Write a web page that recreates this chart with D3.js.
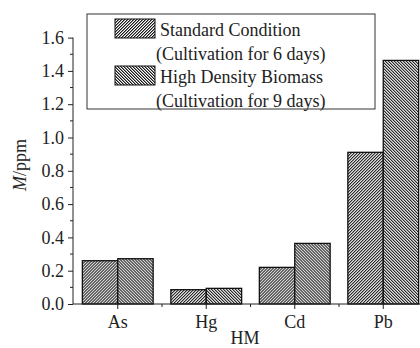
<!DOCTYPE html>
<html>
<head>
<script src="https://cdn.jsdelivr.net/npm/d3@7"></script>
<style>
  body { margin: 0; background: #fff; }
  svg, svg text { font-family: "Liberation Serif", "Times New Roman", serif; }
</style>
</head>
<body>
<svg width="420" height="348"></svg>
<script>
var categories = ["As", "Hg", "Cd", "Pb"];
var seriesNames = ["Standard Condition", "High Density Biomass"];
var seriesNotes = ["(Cultivation for 6 days)", "(Cultivation for 9 days)"];
var standard = [0.26, 0.086, 0.22, 0.911];
var highDensity = [0.272, 0.094, 0.364, 1.463];
var yTicks = [0, 0.2, 0.4, 0.6, 0.8, 1.0, 1.2, 1.4, 1.6];

var svg = d3.select("svg");

// pixel hatch patterns, 3px period
var defs = svg.append("defs");
function hatch(id, rising) {
  var p = defs.append("pattern")
    .attr("id", id)
    .attr("patternUnits", "userSpaceOnUse")
    .attr("width", 3).attr("height", 3);
  p.append("rect").attr("width", 3).attr("height", 3).attr("fill", "#fff");
  [0, 1, 2].forEach(function(r) {
    var c = rising ? 2 - r : r;
    p.append("rect").attr("x", c).attr("y", r).attr("width", 1).attr("height", 1)
      .attr("fill", "#1a1a1a").attr("shape-rendering", "crispEdges");
    p.append("rect").attr("x", (c + 1) % 3).attr("y", r).attr("width", 1).attr("height", 1)
      .attr("fill", "#888").attr("shape-rendering", "crispEdges");
  });
}
hatch("h1", true);
hatch("h2", false);

var x = d3.scaleBand().domain(categories).range([73.5, 427.5])
  .paddingInner(0.2).paddingOuter(0.1);
var xs = d3.scaleBand().domain([0, 1]).range([0, x.bandwidth()]);
var y = d3.scaleLinear().domain([0, 1.6]).range([304, 37.6]);

var data = categories.map(function(c, i) {
  return { cat: c, vals: [standard[i], highDensity[i]] };
});

var groups = svg.selectAll("g.cat").data(data).enter()
  .append("g").attr("class", "cat")
  .attr("transform", function(d) { return "translate(" + x(d.cat) + ",0)"; });

groups.selectAll("rect").data(function(d) { return d.vals; }).enter()
  .append("rect")
  .attr("x", function(d, i) { return xs(i); })
  .attr("y", function(d) { return y(d); })
  .attr("width", xs.bandwidth())
  .attr("height", function(d) { return y(0) - y(d); })
  .attr("fill", function(d, i) { return i === 0 ? "url(#h1)" : "url(#h2)"; })
  .attr("stroke", "#111")
  .attr("stroke-width", 1.3);

// y axis
var yAxis = svg.append("g").attr("transform", "translate(73,0)")
  .call(d3.axisLeft(y).tickValues(yTicks).tickFormat(d3.format(".1f")).tickSize(5).tickPadding(4));
yAxis.attr("font-family", null).attr("font-size", 18);
yAxis.selectAll(".tick text").attr("fill", "#222");
yAxis.select(".domain").attr("d", "M0," + y(0) + "V" + y(1.6));
svg.append("g").attr("transform", "translate(73,0)")
  .selectAll("line").data(d3.range(1, 16, 2).map(function(v) { return v / 10; }))
  .enter().append("line")
  .attr("x1", -3).attr("x2", 0)
  .attr("y1", function(d) { return y(d); }).attr("y2", function(d) { return y(d); })
  .attr("stroke", "#222");

// x axis
var xAxis = svg.append("g").attr("transform", "translate(0," + y(0) + ")")
  .call(d3.axisBottom(x).tickSize(5).tickPadding(6));
xAxis.attr("font-family", null).attr("font-size", 18);
xAxis.select(".domain").attr("d", "M73,0H420");
xAxis.selectAll(".tick text").attr("fill", "#222");
svg.append("g").attr("transform", "translate(0," + y(0) + ")")
  .selectAll("line").data(categories.slice(1))
  .enter().append("line")
  .attr("x1", function(d) { return x(d) - x.step() * x.paddingInner() / 2; })
  .attr("x2", function(d) { return x(d) - x.step() * x.paddingInner() / 2; })
  .attr("y1", 0).attr("y2", 3)
  .attr("stroke", "#222");
svg.selectAll(".domain, .tick line").attr("stroke", "#222");

// axis titles
svg.append("text").attr("x", 245).attr("y", 344)
  .attr("text-anchor", "middle").attr("font-size", 18).attr("fill", "#222").text("HM");
var yl = svg.append("text")
  .attr("transform", "translate(26,165) rotate(-90)")
  .attr("text-anchor", "middle").attr("font-size", 18).attr("fill", "#222");
yl.append("tspan").attr("font-style", "italic").text("M");
yl.append("tspan").text("/ppm");

// legend
var lg = svg.append("g");
lg.append("rect").attr("x", 87).attr("y", 14).attr("width", 288).attr("height", 95)
  .attr("fill", "#fff").attr("stroke", "#333").attr("stroke-width", 1);
[0, 1].forEach(function(i) {
  var top = 19 + i * 47;
  lg.append("rect").attr("x", 115).attr("y", top).attr("width", 40).attr("height", 19)
    .attr("fill", i === 0 ? "url(#h1)" : "url(#h2)").attr("stroke", "#111").attr("stroke-width", 1);
  lg.append("text").attr("x", 160).attr("y", top + 17).attr("font-size", 18).attr("fill", "#222")
    .text(seriesNames[i]);
  lg.append("text").attr("x", 156).attr("y", top + 41).attr("font-size", 18).attr("fill", "#222")
    .text(seriesNotes[i]);
});
</script>
</body>
</html>
